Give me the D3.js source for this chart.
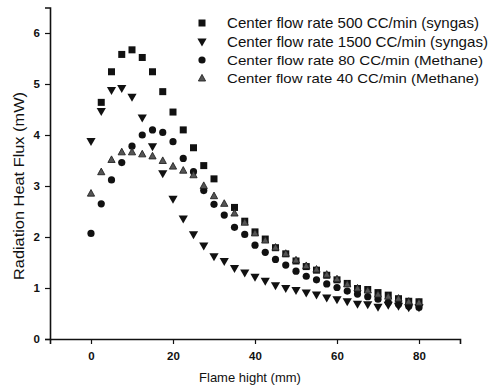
<html>
  <head>
    <script src="https://d3js.org/d3.v7.min.js"></script>
    <style>
      body { margin: 0; background: #fff; }
      text { font-family: "Liberation Sans", Arial, sans-serif; fill: #111; }
    </style>
  </head>
  <body>
    <svg width="491" height="388"></svg>
    <script>
      // flame height (mm), sampled every 2.5 mm
      var hx = [0, 2.5, 5, 7.5, 10, 12.5, 15, 17.5, 20, 22.5, 25, 27.5, 30, 32.5, 35, 37.5,
                40, 42.5, 45, 47.5, 50, 52.5, 55, 57.5, 60, 62.5, 65, 67.5, 70, 72.5, 75, 77.5, 80];

      // null = no marker visible at that height
      var syngas500 = [null, 4.64, 5.24, 5.58, 5.67, 5.52, 5.24, 4.85, 4.45, 4.10, 3.75, 3.40, 3.14, null, 2.58, 2.31,
                       2.10, 1.96, 1.79, 1.67, 1.53, 1.42, 1.35, 1.25, 1.16, 1.09, 0.99, 0.97, 0.91, 0.86, 0.79, 0.74, 0.73];
      var syngas1500 = [3.87, 4.46, 4.87, 4.91, 4.74, 4.33, 3.77, 3.24, 2.74, 2.35, 2.04, 1.82, 1.61, 1.52, 1.38, 1.29,
                        1.21, 1.13, 1.04, 0.99, 0.95, 0.90, 0.86, 0.80, 0.77, 0.73, 0.68, 0.67, 0.62, 0.66, 0.64, 0.61, 0.61];
      var methane80 = [2.07, 2.65, 3.12, 3.46, 3.78, 4.00, 4.10, 4.05, 3.87, 3.54, 3.28, 2.91, 2.64, 2.43, 2.19, 2.05,
                       1.84, 1.70, 1.56, 1.45, 1.33, 1.23, 1.16, 1.08, 1.01, 0.94, 0.88, 0.83, 0.78, 0.72, 0.68, 0.64, 0.62];
      var methane40 = [2.86, 3.28, 3.52, 3.67, 3.67, 3.63, 3.59, 3.50, 3.39, 3.31, 3.22, 3.01, 2.81, 2.66, 2.47, 2.29,
                       2.08, 1.94, 1.80, 1.68, 1.55, 1.44, 1.37, 1.27, 1.18, 1.08, 1.00, 0.96, 0.88, 0.84, 0.80, 0.74, 0.72];

      var seriesNames = ["Center flow rate 500 CC/min (syngas)", "Center flow rate 1500 CC/min (syngas)",
                         "Center flow rate 80 CC/min (Methane)", "Center flow rate 40 CC/min (Methane)"];
      var xTicks = [0, 20, 40, 60, 80];
      var yTicks = [0, 1, 2, 3, 4, 5, 6];

      var series = [
        { name: seriesNames[0], vals: syngas500, shape: "square" },
        { name: seriesNames[1], vals: syngas1500, shape: "down" },
        { name: seriesNames[2], vals: methane80, shape: "circle" },
        { name: seriesNames[3], vals: methane40, shape: "up" }
      ];

      var svg = d3.select("svg");
      var x = d3.scaleLinear().domain([-10, 90]).range([50, 460]);
      var y = d3.scaleLinear().domain([0, 6.5]).range([339, 7.5]);

      // axes: major ticks with labels, minor ticks between
      var xMinor = d3.range(-10, 91, 10);
      var yMinor = d3.range(0, 6.51, 0.5);

      var gx = svg.append("g").attr("transform", "translate(0," + y(0) + ")");
      gx.call(d3.axisBottom(x).tickValues(xMinor).tickSize(3).tickFormat(""));
      gx.call(d3.axisBottom(x).tickValues(xTicks).tickSize(5).tickPadding(8).tickFormat(d3.format("d")));
      var gy = svg.append("g").attr("transform", "translate(" + x(-10) + ",0)");
      gy.call(d3.axisLeft(y).tickValues(yMinor).tickSize(3).tickFormat(""));
      gy.call(d3.axisLeft(y).tickValues(yTicks).tickSize(5).tickPadding(5).tickFormat(d3.format("d")));
      svg.selectAll(".domain").attr("stroke", "#111").attr("stroke-width", 1.6);
      svg.selectAll(".tick line").attr("stroke", "#111").attr("stroke-width", 1.2);
      svg.selectAll(".tick text").style("font-size", "11.5px").style("font-weight", "bold")
        .style("font-family", "'Liberation Sans', Arial, sans-serif").attr("fill", "#111");

      // marker shapes
      function drawMark(g, shape, cx, cy) {
        if (shape === "square") {
          g.append("rect").attr("x", cx - 3.5).attr("y", cy - 3.5).attr("width", 7).attr("height", 7).attr("fill", "#111");
        } else if (shape === "circle") {
          g.append("circle").attr("cx", cx).attr("cy", cy).attr("r", 3.6).attr("fill", "#111");
        } else if (shape === "down") {
          g.append("path").attr("d", "M" + (cx - 4.6) + "," + (cy - 3.6) + "L" + (cx + 4.6) + "," + (cy - 3.6) + "L" + cx + "," + (cy + 4.4) + "Z").attr("fill", "#111");
        } else {
          g.append("path").attr("d", "M" + cx + "," + (cy - 3.6) + "L" + (cx + 3.6) + "," + (cy + 3) + "L" + (cx - 3.6) + "," + (cy + 3) + "Z")
            .attr("fill", "#555").attr("stroke", "#222").attr("stroke-width", 0.9);
        }
      }

      var plot = svg.append("g");
      series.forEach(function(s) {
        s.vals.forEach(function(v, i) {
          if (v === null) return;
          drawMark(plot, s.shape, x(hx[i]), y(v));
        });
      });

      // legend
      var legendY = [23, 42, 60, 78];
      var legendSize = [14.5, 14.5, 13.5, 13.5];
      var legendLen = [252, 261, 256, 252];
      series.forEach(function(s, i) {
        var g = svg.append("g");
        drawMark(g, s.shape, 202, legendY[i]);
        g.append("text").attr("x", 227).attr("y", legendY[i] + 5)
          .attr("textLength", legendLen[i]).attr("lengthAdjust", "spacingAndGlyphs")
          .style("font-size", legendSize[i] + "px").text(s.name);
      });

      // axis titles
      svg.append("text").attr("x", 250).attr("y", 382).attr("text-anchor", "middle")
        .style("font-size", "13px").text("Flame hight (mm)");
      svg.append("text").attr("transform", "translate(24,186) rotate(-90)").attr("text-anchor", "middle")
        .attr("textLength", 188).attr("lengthAdjust", "spacingAndGlyphs")
        .style("font-size", "15px").text("Radiation Heat Flux (mW)");
    </script>
  </body>
</html>
